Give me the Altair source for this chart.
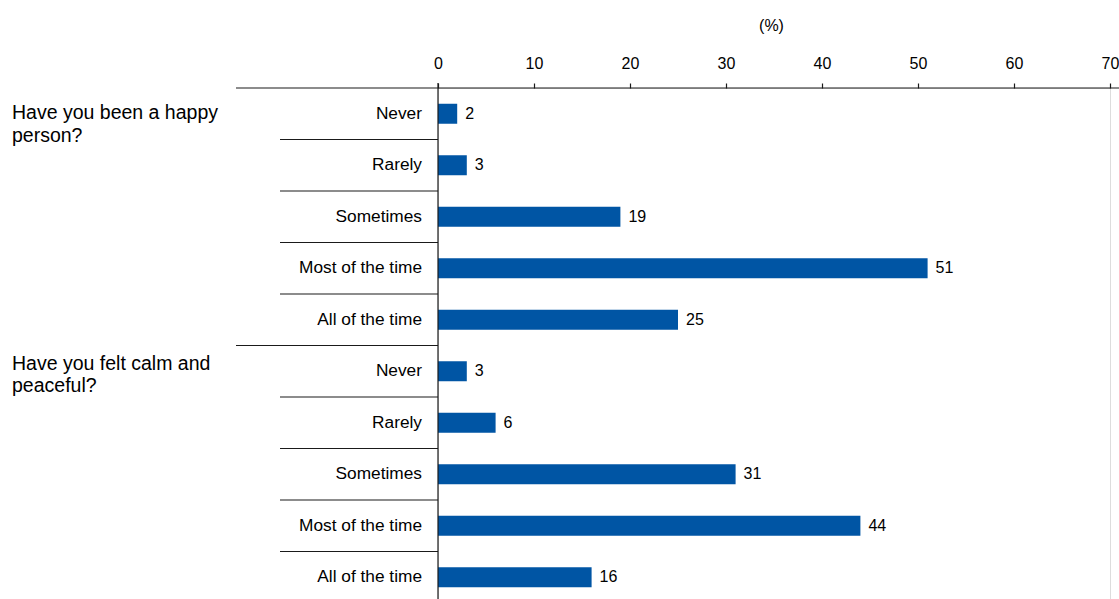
import altair as alt
import pandas as pd

# Survey answers, share of respondents (%)
groups = ["Have you been a happy person?", "Have you felt calm and peaceful?"]
group_lines = [["Have you been a happy", "person?"], ["Have you felt calm and", "peaceful?"]]
answers = ["Never", "Rarely", "Sometimes", "Most of the time", "All of the time"]
happy = [2, 3, 19, 51, 25]
calm = [3, 6, 31, 44, 16]
ticks = [0, 10, 20, 30, 40, 50, 60, 70]

BLUE = "#0055A4"
INK = "#1a1a1a"
FONT = "Liberation Sans"

rows = []
for gi, vals in enumerate([happy, calm]):
    for order, (ans, v) in enumerate(zip(answers, vals)):
        rows.append({"gi": gi, "group": groups[gi], "answer": ans, "order": order,
                     "value": v, "key": f"{gi}|{ans}"})
df = pd.DataFrame(rows)
keys = list(df["key"])

glabels = pd.DataFrame({
    "gi": [0, 1],
    "key": [f"{gi}|{answers[0]}" for gi in range(2)],
    "text": ["\n".join(lines) for lines in group_lines],
})

yscale = alt.Scale(domain=keys, range=[0, 515], paddingInner=0, paddingOuter=0)
y_mid = alt.Y("key:N", scale=yscale, axis=None)
y_top = alt.Y("key:N", scale=yscale, axis=None, bandPosition=0)

base = alt.Chart(df)

bars = base.mark_bar(size=20, color=BLUE).encode(
    x=alt.X("value:Q", scale=alt.Scale(domain=[0, 70], nice=False),
            axis=alt.Axis(orient="top", values=ticks, domain=False, grid=False,
                          tickSize=5, tickColor=INK, tickWidth=1.2,
                          labelFontSize=16, labelPadding=12, labelColor="black",
                          labelFlush=False, labelOverlap=False,
                          labelFont=FONT, title="(%)", titleX=333, titleY=-63,
                          titleBaseline="middle", titleAlign="center",
                          titleFontWeight="normal", titleFontSize=16,
                          titleColor="black", titleFont=FONT)),
    y=y_mid,
)

values = base.mark_text(align="left", baseline="middle", dx=8, fontSize=16,
                        font=FONT, color="black").encode(
    x="value:Q", y=y_mid, text="value:Q")

cats = base.mark_text(align="right", baseline="middle", fontSize=17.3,
                      font=FONT, color="black").encode(
    x=alt.value(-16), y=y_mid, text="answer:N")

# separators between answers inside a group
inner_rules = base.transform_filter("datum.order > 0").mark_rule(
    color=INK, strokeWidth=1.2).encode(
    x=alt.value(-158), x2=alt.value(0), y=y_top)

# longer separator at the start of each later group
group_rules = base.transform_filter("datum.order == 0 && datum.gi > 0").mark_rule(
    color=INK, strokeWidth=1.2).encode(
    x=alt.value(-202), x2=alt.value(0), y=y_top)

# top rule carrying the axis, running across the full width
top_rule = base.transform_filter("datum.order == 0 && datum.gi == 0").mark_rule(
    color=INK, strokeWidth=1.2).encode(
    x=alt.value(-202), x2=alt.value(681), y=y_top)

zero_rule = base.transform_filter("datum.order == 0 && datum.gi == 0").mark_rule(
    color=INK, strokeWidth=1.2).encode(
    x=alt.value(0), y=alt.value(-5), y2=alt.value(515))

group_dy = [16, 9]
group_layers = []
for gi in range(2):
    group_layers.append(
        alt.Chart(glabels).transform_filter(f"datum.gi == {gi}").mark_text(
            align="left", baseline="top", fontSize=19.5, font=FONT, color="black",
            lineBreak="\n", lineHeight=22.5, dy=group_dy[gi]).encode(
            x=alt.value(-426), y=y_top, text="text:N")
    )

chart = alt.layer(
    inner_rules, group_rules, top_rule, bars, values, cats, zero_rule, *group_layers
).properties(
    width=672, height=511,
    autosize=alt.AutoSizeParams(type="none"),
    padding={"left": 438, "top": 88, "right": 9, "bottom": 0},
).configure_view(stroke=None).configure(font=FONT)

chart.save("out.html", embed_options={"renderer": "svg", "actions": False})
